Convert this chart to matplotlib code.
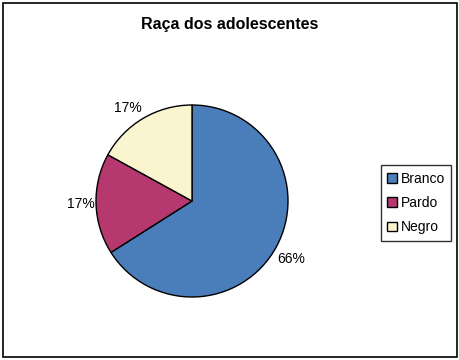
import matplotlib.pyplot as plt
from matplotlib.patches import Rectangle

# data
labels = ['Branco', 'Pardo', 'Negro']
values = [66, 17, 17]
colors = ['#4A7EBB', '#B5386F', '#FAF5CF']

# label placement (pie radius units)
label_pos = [(1.03, -0.60), (-1.16, -0.03), (-0.67, 0.97)]

plt.rcParams['font.family'] = ['Liberation Sans', 'DejaVu Sans']

fig = plt.figure(figsize=(4.6, 3.6), dpi=100)

# outer frame of the chart area
fig.patches.append(Rectangle((3/460, 3/360), 454/460, 354/360, transform=fig.transFigure,
                             fill=False, edgecolor='black', linewidth=1.2))

ax = fig.add_axes([(192 - 96) / 460, 1 - (201 + 96) / 360, 192 / 460, 192 / 360])
wedges, texts, autotexts = ax.pie(values, colors=colors, startangle=90, counterclock=False,
                                  autopct='%1.0f%%', pctdistance=1.2,
                                  wedgeprops=dict(edgecolor='black', linewidth=1.0))
for t, p in zip(autotexts, label_pos):
    t.set_fontsize(10)
    t.set_clip_on(False)
    t.set_position(p)
ax.set_xlim(-1, 1)
ax.set_ylim(-1, 1)
ax.set_aspect('equal')

fig.text(0.5, 1 - 25 / 360, 'Raça dos adolescentes', ha='center', va='center',
         fontsize=11.5, fontweight='bold')

leg = fig.legend(wedges, labels, loc='center', bbox_to_anchor=(416 / 460, 1 - 203 / 360),
                 frameon=True, fancybox=False, edgecolor='black', fontsize=10,
                 handlelength=0.7, handleheight=0.7, handletextpad=0.3,
                 labelspacing=0.75, borderpad=0.45, borderaxespad=0)
leg.get_frame().set_linewidth(1.0)

fig.savefig('out.png', dpi=100)
